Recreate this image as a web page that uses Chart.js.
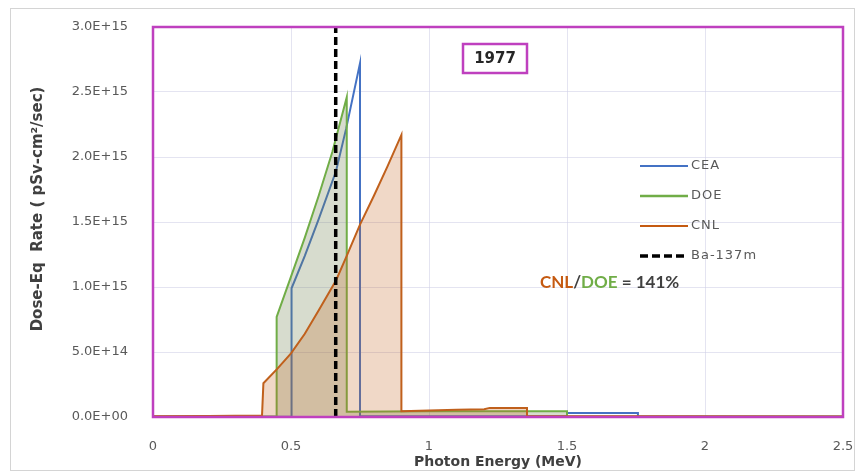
<!DOCTYPE html>
<html><head><meta charset="utf-8">
<script src="https://cdn.jsdelivr.net/npm/chart.js@4.4.0/dist/chart.umd.min.js"></script>
<style>html,body{margin:0;padding:0;background:#fff}#wrap{position:relative;width:859px;height:472px}</style>
</head><body><div id="wrap"><canvas id="c" width="859" height="472"></canvas></div>
<script>
// ---- data ----
const seriesNames = ['CEA', 'DOE', 'CNL', 'Ba-137m'];

const ceaEnergy = [0, 0.502, 0.502, 0.55, 0.60, 0.663, 0.70, 0.75, 0.75, 1.50, 1.50, 1.757, 1.757, 2.5];
const ceaRate   = [2e12, 2e12, 9.9e14, 1.24e15, 1.52e15, 1.89e15, 2.22e15, 2.72e15, 5e12, 5e12, 3e13, 3e13, 2e12, 2e12];

const doeEnergy = [0, 0.448, 0.448, 0.50, 0.55, 0.60, 0.65, 0.702, 0.702, 1.0, 1.355, 1.50, 1.50, 2.5];
const doeRate   = [3e12, 3e12, 7.7e14, 1.08e15, 1.38e15, 1.70e15, 2.04e15, 2.46e15, 4e13, 4.5e13, 4.5e13, 4.5e13, 3e12, 3e12];

const cnlEnergy = [0, 0.2, 0.395, 0.40, 0.45, 0.50, 0.55, 0.60, 0.663, 0.70, 0.75, 0.80, 0.85, 0.90, 0.90, 1.0, 1.1, 1.2, 1.22, 1.355, 1.355, 1.8, 2.5];
const cnlRate   = [5e12, 8e12, 1.2e13, 2.6e14, 3.7e14, 4.9e14, 6.4e14, 8.2e14, 1.05e15, 1.23e15, 1.48e15, 1.70e15, 1.93e15, 2.17e15, 4.5e13, 5e13, 5.5e13, 6e13, 7e13, 7e13, 8e12, 5e12, 3e12];

const baEnergy = [0.662, 0.662];
const baRate   = [0, 3e15];

const xTickLabels = ['0', '0.5', '1', '1.5', '2', '2.5'];
const yTickLabels = ['0.0E+00', '5.0E+14', '1.0E+15', '1.5E+15', '2.0E+15', '2.5E+15', '3.0E+15'];

const ratioLabel = ['CNL', '/', 'DOE', ' = 141%'];
const yearLabel = '1977';

// ---- build chart ----
const pts = (xs, ys) => xs.map((x, i) => ({x: x, y: ys[i]}));
const MAG = '#bf40bf';

const decor = {
  id: 'decor',
  afterDraw(chart) {
    const ctx = chart.ctx, a = chart.chartArea;
    ctx.save();
    // outer frame
    ctx.strokeStyle = '#d4d4d4'; ctx.lineWidth = 1;
    ctx.strokeRect(10.5, 8.5, 844, 462);
    // plot frame
    ctx.strokeStyle = MAG; ctx.lineWidth = 2.5;
    ctx.strokeRect(a.left, a.top, a.right - a.left, a.bottom - a.top);
    // legend
    const rows = [
      {c: '#4472c4', w: 2, d: []},
      {c: '#70ad47', w: 2.5, d: []},
      {c: '#c55a11', w: 2, d: []},
      {c: '#000000', w: 3.5, d: [8, 4]}
    ];
    let y = 166;
    ctx.font = '13px "DejaVu Sans"';
    ctx.textBaseline = 'middle'; ctx.textAlign = 'left';
    try { ctx.letterSpacing = '1px'; } catch (e) {}
    rows.forEach((r, i) => {
      ctx.beginPath(); ctx.setLineDash(r.d); ctx.strokeStyle = r.c; ctx.lineWidth = r.w;
      ctx.moveTo(640, y); ctx.lineTo(688, y); ctx.stroke();
      ctx.setLineDash([]);
      ctx.fillStyle = '#595959';
      ctx.fillText(seriesNames[i], 691, y);
      y += 30;
    });
    try { ctx.letterSpacing = '0px'; } catch (e) {}
    // year box
    ctx.strokeStyle = MAG; ctx.lineWidth = 2.5;
    ctx.strokeRect(463, 44, 64, 29);
    ctx.font = 'bold 15px "DejaVu Sans"'; ctx.fillStyle = '#262626'; ctx.textAlign = 'center';
    ctx.fillText(yearLabel, 495, 59);
    // ratio text
    ctx.font = 'bold 17px Lato'; ctx.textAlign = 'left';
    const cols = ['#c55a11', '#404040', '#70ad47', '#404040'];
    let x = 540;
    ratioLabel.forEach((t, i) => { ctx.fillStyle = cols[i]; ctx.fillText(t, x, 283); x += ctx.measureText(t).width; });
    ctx.restore();
  }
};

new Chart(document.getElementById('c'), {
  type: 'line',
  data: {
    datasets: [
      {label: seriesNames[0], data: pts(ceaEnergy, ceaRate), borderColor: '#4472c4', borderWidth: 2, fill: false, order: 3},
      {label: seriesNames[1], data: pts(doeEnergy, doeRate), borderColor: '#70ad47', borderWidth: 2, fill: 'origin', backgroundColor: 'rgba(110,130,80,0.28)', order: 2},
      {label: seriesNames[2], data: pts(cnlEnergy, cnlRate), borderColor: '#c0601c', borderWidth: 2, fill: 'origin', backgroundColor: 'rgba(197,100,30,0.25)', order: 1},
      {label: seriesNames[3], data: pts(baEnergy, baRate), borderColor: '#000000', borderWidth: 3.5, borderDash: [8, 4], fill: false, order: 0}
    ]
  },
  options: {
    responsive: false, animation: false, devicePixelRatio: 1,
    elements: {point: {radius: 0}, line: {tension: 0}},
    layout: {padding: {left: 0, right: 16, top: 27, bottom: 0}},
    plugins: {legend: {display: false}, tooltip: {enabled: false}},
    scales: {
      x: {
        type: 'linear', min: 0, max: 2.5,
        afterFit: s => { s.height = 55; s.paddingLeft = 0; s.paddingRight = 0; },
        grid: {color: 'rgba(205,205,230,0.55)', drawTicks: false},
        border: {display: false},
        ticks: {stepSize: 0.5, padding: 22, color: '#595959', font: {family: 'DejaVu Sans', size: 13},
          callback: (v, i) => xTickLabels[i]},
        title: {display: true, text: 'Photon Energy (MeV)', color: '#404040', font: {family: 'DejaVu Sans', size: 14, weight: 'bold'}, padding: {top: 0, bottom: 1}}
      },
      y: {
        min: 0, max: 3e15,
        afterFit: s => { s.width = 153; s.paddingTop = 0; s.paddingBottom = 0; },
        grid: {color: 'rgba(205,205,230,0.55)', drawTicks: false},
        border: {display: false},
        ticks: {stepSize: 5e14, padding: 25, color: '#595959', font: {family: 'DejaVu Sans', size: 13},
          callback: (v, i) => yTickLabels[i]},
        title: {display: true, text: '     Dose-Eq  Rate ( pSv-cm²/sec)', color: '#404040', font: {family: 'DejaVu Sans', size: 15, weight: 'bold'}, padding: {top: 29, bottom: 0}}
      }
    }
  },
  plugins: [decor]
});
</script>
</body></html>
